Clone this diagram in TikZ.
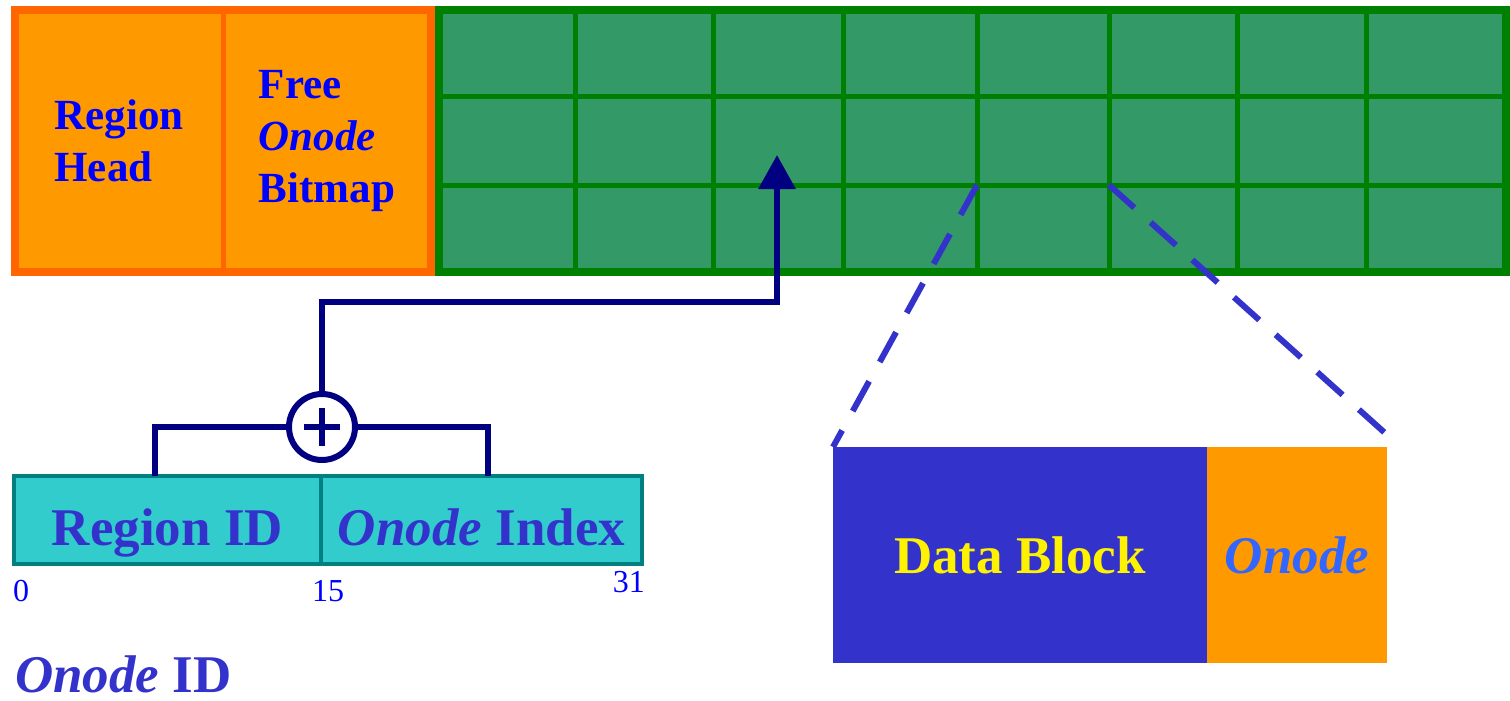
\documentclass[tikz,border=0pt]{standalone}
\usepackage{fontspec}
\setmainfont{Liberation Serif}
\usetikzlibrary{positioning,arrows.meta,calc}

\definecolor{headfill}{HTML}{FF9900}
\definecolor{headline}{HTML}{FF6600}
\definecolor{poolfill}{HTML}{339966}
\definecolor{poolline}{HTML}{008000}
\definecolor{idfill}{HTML}{33CCCC}
\definecolor{idline}{HTML}{008080}
\definecolor{idtext}{HTML}{3333CC}
\definecolor{wirecol}{HTML}{000080}
\definecolor{onodetext}{HTML}{3366FF}

\begin{document}
\begin{tikzpicture}[
    x=1pt, y=-1pt,
    headcell/.style={fill=headfill, inner sep=0pt, outer sep=0pt, minimum height=262pt,
        align=left, text=blue, font=\fontsize{43}{52}\selectfont\bfseries},
    idcell/.style={fill=idfill, draw=idline, line width=4pt, inner sep=0pt, outer sep=0pt,
        minimum height=88pt, text height=50pt, text depth=0pt,
        text=idtext, font=\fontsize{53}{60}\selectfont\bfseries},
    gridline/.style={draw=poolline, line width=5pt},
    wire/.style={draw=wirecol, line width=6pt},
    zoomline/.style={draw=idtext, line width=6pt, dash pattern=on 34pt off 22pt},
    bitno/.style={text=blue, inner sep=0pt, font=\fontsize{32}{32}\selectfont}
]
    \useasboundingbox (0,0) rectangle (1510,701);

    % region head and free onode bitmap
    \node[headcell, minimum width=208pt, anchor=north west]
        (head) at (15,10) {Region\\Head};
    \node[headcell, minimum width=208pt, right=0pt of head]
        (bitmap) {Free\\\textit{Onode}\\Bitmap};
    \draw[headline, line width=5pt] (head.north east) -- (head.south east);
    \draw[headline, line width=8pt] (head.north west) rectangle (bitmap.south east);

    % onode area
    \node[fill=poolfill, draw=poolline, line width=8pt, inner sep=0pt, outer sep=0pt,
        minimum width=1067pt, minimum height=262pt, anchor=north west]
        (pool) at (439,10) {};
    \foreach \x [count=\i] in {575,713,843,977,1109,1237,1366} {
        \draw[gridline] (\x,14) -- (\x,268);
        \coordinate (col\i) at (\x,185);
    }
    \foreach \y in {96,185}
        \draw[gridline] (443,\y) -- (1502,\y);
    \coordinate (slot) at (777,155);
    \coordinate (turn) at (777,302);

    % onode id
    \node[idcell, minimum width=307pt, anchor=north west] (rid) at (14,476) {Region ID};
    \node[idcell, minimum width=321pt, right=0pt of rid] (idx) {\textit{Onode} Index};
    \node[bitno, anchor=north west] (b0) at (13,580) {0};
    \node[bitno, anchor=north] (b15) at (328,580) {15};
    \node[bitno, anchor=north east] (b31) at (645,571) {31};
    \node[text=idtext, inner sep=0pt, anchor=base west,
        font=\fontsize{53}{60}\selectfont\bfseries] (oid) at (15,692) {\textit{Onode} ID};

    \node[circle, draw=wirecol, fill=white, line width=6pt, minimum size=66pt,
        path picture={
            \draw[wirecol, line width=6pt]
                ($(path picture bounding box.center)+(-18pt,0)$) -- ++(36pt,0)
                ($(path picture bounding box.center)+(0,-19pt)$) -- ++(0,38pt);
        }] (sum) at (322,427) {};

    \draw[wire] ($(rid.north west)!0.46!(rid.north east)$) |- (sum.west);
    \draw[wire] ($(idx.north west)!0.52!(idx.north east)$) |- (sum.east);
    \draw[wire, -{Triangle[width=36pt, length=34pt]}] (sum.north) |- (turn) -- (slot);

    % one onode slot
    \node[fill=idtext, inner sep=0pt, outer sep=0pt, minimum width=374pt, minimum height=216pt,
        anchor=north west, text=yellow, font=\fontsize{53}{60}\selectfont\bfseries]
        (data) at (833,447) {Data Block};
    \node[fill=headfill, inner sep=0pt, outer sep=0pt, minimum width=180pt, minimum height=216pt,
        right=0pt of data, text=onodetext, font=\fontsize{53}{60}\selectfont\bfseries\itshape]
        (onode) {Onode};

    \draw[zoomline] (col4) -- (data.north west);
    \draw[zoomline] (col5) -- ($(onode.north east)+(-2,-14)$);
\end{tikzpicture}
\end{document}
